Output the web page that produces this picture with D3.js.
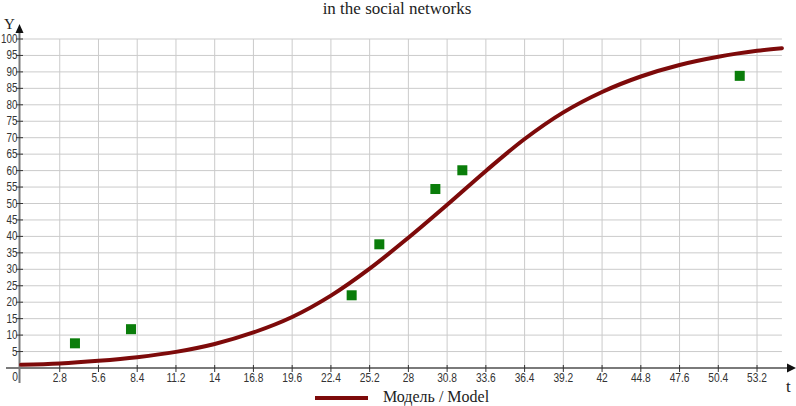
<!DOCTYPE html>
<html>
<head>
<meta charset="utf-8">
<script src="https://cdn.jsdelivr.net/npm/d3@7"></script>
<style>
  body { margin: 0; background: #fff; }
  .tick-label { font-family: "Liberation Sans Narrow", "Arial Narrow", "Liberation Sans", sans-serif; font-size: 12px; fill: #333; }
  .serif { font-family: "Liberation Serif", "Times New Roman", serif; fill: #222; }
</style>
</head>
<body>
<div id="chart"></div>
<script>
// model curve, at every x tick
var modelT = [0, 2.8, 5.6, 8.4, 11.2, 14, 16.8, 19.6, 22.4, 25.2, 28, 30.8, 33.6, 36.4, 39.2, 42, 44.8, 47.6, 50.4, 53.2, 55];
var modelY = [1.0, 1.4, 2.2, 3.3, 4.9, 7.3, 10.8, 15.5, 22.0, 30.2, 39.6, 49.6, 59.9, 69.6, 77.7, 83.9, 88.6, 92.1, 94.6, 96.4, 97.2];

// observed points
var obsT = [3.9, 7.95, 23.9, 25.9, 29.95, 31.9, 51.95];
var obsY = [7.5, 11.8, 22.1, 37.6, 54.4, 60.1, 88.8];

var xTicks = [2.8, 5.6, 8.4, 11.2, 14, 16.8, 19.6, 22.4, 25.2, 28, 30.8, 33.6, 36.4, 39.2, 42, 44.8, 47.6, 50.4, 53.2];
var yTicks = [5, 10, 15, 20, 25, 30, 35, 40, 45, 50, 55, 60, 65, 70, 75, 80, 85, 90, 95, 100];

var width = 796, height = 406;

var svg = d3.select("#chart").append("svg")
    .attr("width", width)
    .attr("height", height);

var x = d3.scaleLinear().domain([0, 55.8]).range([21, 793]);
var y = d3.scaleLinear().domain([0, 100]).range([368, 39]);
var gridEnd = 55;

// title
svg.append("text")
    .attr("class", "serif")
    .attr("x", 397).attr("y", 14)
    .attr("text-anchor", "middle")
    .style("font-size", "17px")
    .text("in the social networks");

// grid
svg.append("g").selectAll("line")
    .data(xTicks)
    .enter().append("line")
    .attr("x1", d => x(d)).attr("x2", d => x(d))
    .attr("y1", y(100)).attr("y2", y(0))
    .style("stroke", "#cbcbcb").style("stroke-width", 1);

svg.append("g").selectAll("line")
    .data(yTicks)
    .enter().append("line")
    .attr("x1", x(0)).attr("x2", x(gridEnd))
    .attr("y1", d => y(d)).attr("y2", d => y(d))
    .style("stroke", "#cbcbcb").style("stroke-width", 1);

// axes
var axisColor = "#7a7a7a";
svg.append("line")
    .attr("x1", 6).attr("x2", 788)
    .attr("y1", y(0)).attr("y2", y(0))
    .style("stroke", axisColor).style("stroke-width", 2);
svg.append("line")
    .attr("x1", x(0) - 1.5).attr("x2", x(0) - 1.5)
    .attr("y1", 383).attr("y2", 30)
    .style("stroke", axisColor).style("stroke-width", 2);

// arrows
svg.append("path")
    .attr("d", `M787,${y(0) - 4.5}L796,${y(0)}L787,${y(0) + 4.5}Z`)
    .style("fill", "#111");
svg.append("path")
    .attr("d", `M${x(0) - 5.5},33L${x(0) - 1.5},24L${x(0) + 2.5},33Z`)
    .style("fill", "#111");

// tick marks
svg.append("g").selectAll("line")
    .data(xTicks)
    .enter().append("line")
    .attr("x1", d => x(d)).attr("x2", d => x(d))
    .attr("y1", y(0) - 3).attr("y2", y(0) + 4)
    .style("stroke", "#333").style("stroke-width", 1);
svg.append("g").selectAll("line")
    .data(yTicks)
    .enter().append("line")
    .attr("x1", x(0) - 5).attr("x2", x(0) + 2)
    .attr("y1", d => y(d)).attr("y2", d => y(d))
    .style("stroke", "#333").style("stroke-width", 1);

// tick labels (squeezed to look like a narrow font)
svg.append("g").selectAll("text")
    .data(xTicks)
    .enter().append("text")
    .attr("class", "tick-label")
    .attr("transform", d => `translate(${x(d)},382) scale(0.85,1)`)
    .attr("text-anchor", "middle")
    .text(d => d);
svg.append("g").selectAll("text")
    .data(yTicks)
    .enter().append("text")
    .attr("class", "tick-label")
    .attr("transform", d => `translate(17.5,${y(d) + 4}) scale(0.82,1)`)
    .attr("text-anchor", "end")
    .text(d => d);
svg.append("text")
    .attr("class", "tick-label")
    .attr("transform", "translate(15,381) scale(0.85,1)")
    .attr("text-anchor", "middle")
    .text("0");

// axis names
svg.append("text")
    .attr("class", "serif")
    .attr("x", 4).attr("y", 29)
    .style("font-size", "15px")
    .text("Y");
svg.append("text")
    .attr("class", "serif")
    .attr("x", 786).attr("y", 392)
    .style("font-size", "17px")
    .text("t");

// model curve
var model = modelT.map((t, i) => ({ t: t, v: modelY[i] }));
var line = d3.line()
    .x(d => x(d.t))
    .y(d => y(d.v))
    .curve(d3.curveCatmullRom.alpha(0.5));

svg.append("path")
    .datum(model)
    .attr("d", line)
    .style("fill", "none")
    .style("stroke", "#7d0a0a")
    .style("stroke-width", 4)
    .style("stroke-linecap", "round");

// observed points
var obs = obsT.map((t, i) => ({ t: t, v: obsY[i] }));
svg.append("g").selectAll("rect")
    .data(obs)
    .enter().append("rect")
    .attr("x", d => x(d.t) - 5)
    .attr("y", d => y(d.v) - 5)
    .attr("width", 10).attr("height", 10)
    .style("fill", "#0a7d0a");

// legend
svg.append("line")
    .attr("x1", 315).attr("x2", 368)
    .attr("y1", 398).attr("y2", 398)
    .style("stroke", "#7d0a0a").style("stroke-width", 4);
svg.append("text")
    .attr("class", "serif")
    .attr("x", 383).attr("y", 402)
    .style("font-size", "16px")
    .text("Модель / Model");
</script>
</body>
</html>
